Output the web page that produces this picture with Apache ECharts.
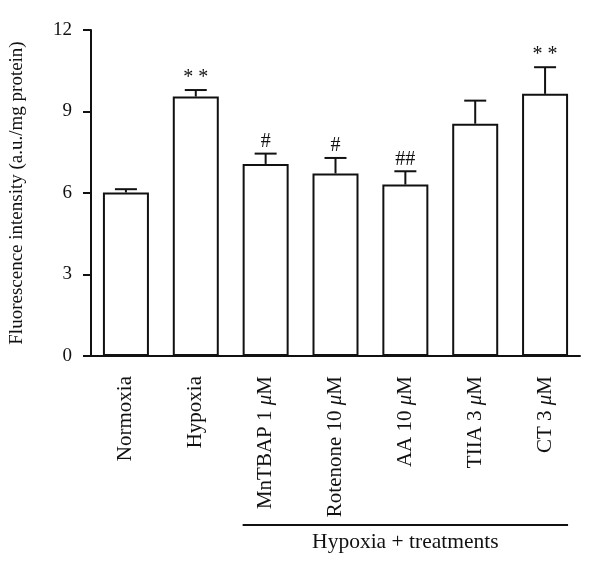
<!DOCTYPE html>
<html>
<head>
<meta charset="utf-8">
<script src="https://cdn.jsdelivr.net/npm/echarts@6/dist/echarts.min.js"></script>
<style>
html,body{margin:0;padding:0;background:#fff;}
#c{width:600px;height:575px;}
</style>
</head>
<body>
<div id="c"></div>
<script>
var categories = ['Normoxia', 'Hypoxia', 'MnTBAP 1 μM', 'Rotenone 10 μM', 'AA 10 μM', 'TIIA 3 μM', 'CT 3 μM'];
var means = [6.02, 9.55, 7.07, 6.72, 6.31, 8.55, 9.65];
var errors = [0.12, 0.24, 0.38, 0.57, 0.49, 0.85, 0.98];
var marks = ['', '* *', '#', '#', '##', '', '* *'];
var yTicks = [0, 3, 6, 9, 12];
var groupLabel = 'Hypoxia + treatments';
var groupFrom = 2, groupTo = 6;

var FONT = '"Liberation Serif", "Times New Roman", serif';
var chart = echarts.init(document.getElementById('c'));

var errData = means.map(function (m, i) { return [i, m, errors[i]]; });

chart.setOption({
  animation: false,
  grid: { left: 91, right: 20, top: 30, bottom: 219, containLabel: false },
  xAxis: {
    type: 'category',
    data: categories,
    axisLine: { lineStyle: { color: '#111', width: 2 } },
    axisTick: { alignWithLabel: true, length: 8, lineStyle: { color: '#111', width: 2 } },
    axisLabel: {
      rotate: 90, margin: 20, color: '#111', fontFamily: FONT, fontSize: 21, interval: 0,
      formatter: function (v) {
        var p = v.split('μ');
        if (p.length === 1) return v;
        return p[0] + '{mu|μ}' + p[1];
      },
      rich: { mu: { fontStyle: 'italic', fontFamily: FONT, fontSize: 21, color: '#111' } }
    }
  },
  yAxis: {
    type: 'value', min: yTicks[0], max: yTicks[yTicks.length - 1], interval: 3,
    name: 'Fluorescence intensity (a.u./mg protein)',
    nameLocation: 'middle', nameGap: 64,
    nameTextStyle: { fontFamily: FONT, fontSize: 19, color: '#111' },
    axisLine: { show: true, lineStyle: { color: '#111', width: 2 } },
    axisTick: { show: true, length: 8, lineStyle: { color: '#111', width: 2 } },
    axisLabel: { margin: 19, color: '#111', fontFamily: FONT, fontSize: 19 },
    splitLine: { show: false }
  },
  series: [
    {
      type: 'bar', data: means, barWidth: 46,
      itemStyle: { color: '#fff', borderColor: '#111', borderWidth: 2 }
    },
    {
      type: 'custom', data: errData, z: 1,
      renderItem: function (params, api) {
        var i = api.value(0), m = api.value(1), e = api.value(2);
        var mk = marks[i];
        var top = api.coord([i, m]);
        var cap = api.coord([i, m + e]);
        var hw = 11;
        var children = [
          { type: 'line', shape: { x1: top[0], y1: top[1], x2: cap[0], y2: cap[1] }, style: { stroke: '#111', lineWidth: 2 } },
          { type: 'line', shape: { x1: cap[0] - hw, y1: cap[1], x2: cap[0] + hw, y2: cap[1] }, style: { stroke: '#111', lineWidth: 2 } }
        ];
        if (mk) {
          children.push({ type: 'text', style: { text: mk, x: cap[0], y: cap[1] - 2, textAlign: 'center', textVerticalAlign: 'bottom', font: '20px ' + FONT, fill: '#111' } });
        }
        return { type: 'group', children: children };
      }
    }
  ]
});

function drawExtras() {
  var p0 = chart.convertToPixel({ gridIndex: 0 }, [groupFrom, 0]);
  var p1 = chart.convertToPixel({ gridIndex: 0 }, [groupTo, 0]);
  var y0 = p0[1];
  var half = 23;
  var lineY = 525;
  chart.setOption({
    graphic: [
      { type: 'line', shape: { x1: 83, y1: y0, x2: 92, y2: y0 }, style: { stroke: '#111', lineWidth: 2 } },
      { type: 'line', shape: { x1: p0[0] - half, y1: lineY, x2: p1[0] + half, y2: lineY }, style: { stroke: '#111', lineWidth: 2 } },
      { type: 'text', style: { text: groupLabel, x: (p0[0] + p1[0]) / 2, y: lineY + 6, textAlign: 'center', textVerticalAlign: 'top', font: '21.5px ' + FONT, fill: '#111' } }
    ]
  });
}
drawExtras();
</script>
</body>
</html>
